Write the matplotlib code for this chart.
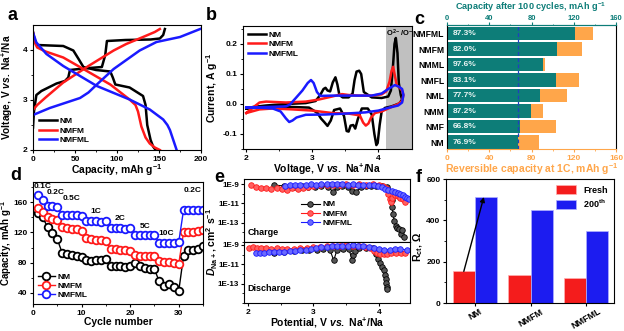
import numpy as np
import matplotlib
matplotlib.use('Agg')
import matplotlib.pyplot as plt

plt.rcParams['font.family'] = ['Liberation Sans', 'DejaVu Sans']
plt.rcParams['font.weight'] = 'bold'
plt.rcParams['axes.labelweight'] = 'bold'
plt.rcParams['mathtext.fontset'] = 'custom'
plt.rcParams['mathtext.rm'] = 'Liberation Sans:bold'
plt.rcParams['mathtext.it'] = 'Liberation Sans:italic:bold'
plt.rcParams['mathtext.bf'] = 'Liberation Sans:bold'
plt.rcParams['mathtext.default'] = 'rm'
plt.rcParams['xtick.direction'] = 'out'
plt.rcParams['ytick.direction'] = 'out'
plt.rcParams['xtick.major.size'] = 2.5
plt.rcParams['ytick.major.size'] = 2.5
plt.rcParams['xtick.minor.size'] = 1.5
plt.rcParams['ytick.minor.size'] = 1.5
plt.rcParams['xtick.major.pad'] = 1.5
plt.rcParams['ytick.major.pad'] = 1.5
plt.rcParams['axes.linewidth'] = 0.8
plt.rcParams['xtick.labelsize'] = 6
plt.rcParams['ytick.labelsize'] = 6
plt.rcParams['axes.labelsize'] = 7.5

# ---- (a) charge / discharge profiles ----
nm_chg_cap = [0, 1, 4, 10, 28, 38, 42, 44, 60, 82, 86, 88, 110, 140, 151, 155, 157]
nm_chg_v = [2.45, 2.75, 3.1, 3.18, 3.33, 3.38, 3.45, 3.6, 3.63, 3.66, 3.9, 4.18, 4.2, 4.21, 4.23, 4.3, 4.42]
nm_dis_cap = [0, 2, 5, 20, 36, 48, 55, 60, 75, 92, 95, 98, 115, 131, 134, 136, 140, 143, 146]
nm_dis_v = [4.36, 4.2, 4.1, 4.09, 4.08, 3.99, 3.8, 3.66, 3.6, 3.57, 3.45, 3.31, 3.25, 3.08, 2.9, 2.5, 2.2, 2.07, 2.0]
nmfm_chg_cap = [0, 5, 15, 36, 66, 96, 111, 131, 145, 151]
nmfm_chg_v = [2.8, 2.9, 3.05, 3.35, 3.68, 3.99, 4.12, 4.26, 4.36, 4.42]
nmfm_dis_cap = [0, 2, 5, 15, 36, 60, 92, 115, 122, 125, 129, 134, 139, 145, 151]
nmfm_dis_v = [4.35, 4.15, 4.05, 3.97, 3.85, 3.62, 3.31, 3.01, 2.9, 2.77, 2.47, 2.25, 2.13, 2.05, 2.0]
nmfml_chg_cap = [0, 20, 56, 66, 76, 96, 127, 147, 175, 199]
nmfml_chg_v = [2.7, 2.84, 3.04, 3.15, 3.31, 3.62, 3.99, 4.16, 4.26, 4.42]
nmfml_dis_cap = [0, 4, 16, 36, 76, 115, 139, 155, 160, 163, 167, 171]
nmfml_dis_v = [4.35, 4.15, 3.92, 3.68, 3.28, 3.01, 2.81, 2.61, 2.5, 2.4, 2.2, 2.0]

# ---- (b) cyclic voltammetry loops ----
nm_cv_v = [2.00, 2.10, 2.30, 2.60, 2.90, 3.05, 3.12, 3.17, 3.20, 3.23, 3.27, 3.31, 3.35, 3.38, 3.41,
           3.46, 3.55, 3.61, 3.64, 3.67, 3.71, 3.74, 3.78, 3.90, 4.05, 4.15, 4.19, 4.22, 4.245, 4.265,
           4.29, 4.31, 4.34, 4.36,
           4.32, 4.20, 4.10, 4.05, 4.02, 3.99, 3.97, 3.94, 3.90, 3.84, 3.75, 3.69, 3.65, 3.62, 3.58,
           3.55, 3.52, 3.48, 3.42, 3.33, 3.28, 3.23, 3.18, 3.13, 3.08, 2.95, 2.70, 2.40, 2.20, 2.00]
nm_cv_i = [-0.015, -0.010, -0.005, 0.000, 0.003, 0.010, 0.030, 0.050, 0.054, 0.045, 0.042, 0.072, 0.089, 0.065, 0.030,
           0.022, 0.022, 0.035, 0.080, 0.108, 0.111, 0.100, 0.040, 0.022, 0.020, 0.025, 0.045, 0.120, 0.200, 0.220,
           0.170, 0.070, 0.030, 0.015,
           0.002, -0.008, -0.013, -0.025, -0.070, -0.130, -0.137, -0.100, -0.035, -0.015, -0.015, -0.050, -0.082, -0.070, -0.072,
           -0.092, -0.090, -0.040, -0.015, -0.020, -0.055, -0.073, -0.060, -0.048, -0.030, -0.012, -0.010, -0.008, -0.012, -0.015]
nmfm_cv_v = [2.00, 2.10, 2.20, 2.30, 2.60, 2.90, 3.10, 3.30, 3.45, 3.55, 3.70, 3.90, 4.05, 4.12, 4.17, 4.20,
             4.225, 4.25, 4.28, 4.32, 4.36, 4.38,
             4.36, 4.30, 4.20, 4.05, 3.95, 3.89, 3.85, 3.81, 3.77, 3.72, 3.55, 3.30, 3.00, 2.70, 2.40, 2.20, 2.00]
nmfm_cv_i = [-0.030, -0.012, 0.005, 0.008, 0.005, 0.008, 0.015, 0.025, 0.033, 0.030, 0.028, 0.028, 0.032, 0.042, 0.075, 0.110,
             0.124, 0.095, 0.062, 0.055, 0.045, 0.030,
             0.010, 0.000, -0.010, -0.025, -0.030, -0.045, -0.065, -0.072, -0.062, -0.038, -0.032, -0.030, -0.022, -0.018, -0.015, -0.018, -0.030]
nmfml_cv_v = [2.00, 2.30, 2.60, 2.66, 2.75, 2.85, 2.93, 2.98, 3.02, 3.07, 3.12, 3.30, 3.60, 3.90, 4.05, 4.15,
              4.25, 4.31, 4.36, 4.38,
              4.36, 4.30, 4.15, 4.00, 3.80, 3.50, 3.20, 2.90, 2.76, 2.70, 2.65, 2.60, 2.52, 2.40, 2.20, 2.00]
nmfml_cv_i = [-0.012, -0.010, -0.008, -0.002, 0.020, 0.045, 0.070, 0.080, 0.070, 0.040, 0.027, 0.028, 0.028, 0.028, 0.035, 0.050,
              0.063, 0.058, 0.050, 0.030,
              0.005, -0.005, -0.013, -0.022, -0.028, -0.032, -0.035, -0.036, -0.045, -0.055, -0.060, -0.048, -0.025, -0.015, -0.012, -0.012]

# ---- (c) capacity retention ----
samples = ['NM', 'NMF', 'NMM', 'NML', 'NMFL', 'NMML', 'NMFM', 'NMFML']
cap_1c = [87, 103, 91, 113.5, 124.5, 93, 127.5, 138.5]
retention = [76.9, 66.8, 87.2, 77.7, 83.1, 97.6, 82.0, 87.3]

# ---- (d) rate capability ----
cycles = np.arange(1, 36)
rate_nm = [146, 140, 127, 119, 111, 93, 92, 90, 89, 88, 83, 82, 84, 83, 85,
           75, 75, 75, 74, 75, 80, 76, 73, 72, 71, 55, 49, 51, 48, 42,
           89, 97, 97, 98, 102]
rate_nmfm = [153, 147, 140, 138, 137, 127, 126, 125, 124, 122, 112, 111, 110, 110, 109,
             98, 98, 97, 97, 96, 90, 89, 89, 89, 89, 82, 81, 81, 80, 78,
             120, 121, 121, 122, 123]
rate_nmfml = [170, 163, 155, 155, 154, 143, 143, 143, 143, 142, 135, 135, 135, 134, 135,
              126, 126, 126, 125, 126, 116, 116, 116, 116, 116, 106, 106, 106, 106, 107,
              150, 150, 150, 150, 150]
rate_labels = ['0.1C', '0.2C', '0.5C', '1C', '2C', '5C', '10C', '0.2C']
rate_label_x = [2.0, 4.6, 8.0, 12.9, 17.9, 23.1, 27.4, 32.9]
rate_label_y = [181, 173, 165, 148, 139, 128, 118, 176]

# ---- (e) Na+ diffusion coefficient (log10 D) ----
nm_chg_pot = [2.40, 2.55, 2.70, 2.82, 2.92, 3.02, 3.12, 3.22, 3.30, 3.36, 3.44, 3.52, 3.58, 3.65, 3.72, 3.80,
              3.88, 3.96, 4.04, 4.12, 4.19, 4.20, 4.21, 4.23, 4.25, 4.27, 4.31, 4.33, 4.35, 4.38]
nm_chg_logd = [-9.1, -9.2, -9.3, -9.2, -9.3, -9.3, -9.2, -9.3, -9.8, -9.3, -9.2, -9.3, -9.7, -9.8, -9.3, -9.2,
               -9.2, -9.2, -9.2, -9.35, -10.7, -11.4, -12.1, -12.8, -13.3, -13.6, -13.7, -14.2, -13.8, -14.5]
nmfm_chg_pot = [2.05, 2.12, 2.20, 2.28, 2.36, 2.44, 2.52, 2.60, 2.68, 2.76, 2.84, 2.92, 3.00, 3.10, 3.20, 3.30,
                3.40, 3.50, 3.60, 3.70, 3.80, 3.90, 4.00, 4.06, 4.11, 4.14, 4.16, 4.18, 4.20, 4.24, 4.28, 4.32,
                4.36, 4.40]
nmfm_chg_logd = [-9.15, -9.3, -9.4, -9.45, -9.5, -9.4, -9.55, -9.6, -9.4, -9.55, -9.4, -9.3, -9.2, -9.1, -9.1, -9.05,
                 -9.05, -9.0, -9.05, -9.0, -9.05, -9.0, -9.1, -9.2, -9.4, -10.0, -10.5, -10.9, -10.4, -10.1, -10.2, -10.4,
                 -10.6, -10.9]
nmfml_chg_pot = [2.57, 2.65, 2.72, 2.80, 2.88, 2.96, 3.04, 3.12, 3.20, 3.28, 3.36, 3.44, 3.52, 3.60, 3.68, 3.76,
                 3.84, 3.92, 3.98, 4.04, 4.09, 4.14, 4.19, 4.24, 4.28, 4.32, 4.36, 4.40, 4.43, 4.46]
nmfml_chg_logd = [-9.2, -9.15, -9.1, -9.1, -9.05, -9.0, -9.05, -9.0, -9.0, -9.0, -9.0, -9.0, -9.05, -9.0, -9.05, -9.05,
                  -9.1, -9.15, -9.25, -9.35, -9.5, -9.6, -9.75, -9.85, -9.95, -10.05, -10.15, -10.3, -10.45, -10.6]
nm_dis_pot = [2.40, 2.55, 2.70, 2.82, 2.94, 3.05, 3.15, 3.25, 3.31, 3.36, 3.45, 3.54, 3.59, 3.61, 3.64, 3.70,
              3.80, 3.90, 3.96, 3.99, 4.02, 4.05, 4.07, 4.09, 4.10, 4.11, 4.12, 4.12]
nm_dis_logd = [-9.85, -9.7, -9.6, -9.55, -9.5, -9.5, -9.45, -9.5, -10.6, -9.5, -9.4, -9.4, -10.6, -10.1, -9.6, -9.3,
               -9.3, -9.35, -9.9, -10.45, -10.9, -11.3, -11.6, -12.1, -12.5, -12.95, -13.3, -13.55]
nmfm_dis_pot = [2.02, 2.08, 2.14, 2.20, 2.28, 2.36, 2.44, 2.52, 2.60, 2.70, 2.80, 2.90, 3.00, 3.10, 3.20, 3.30,
                3.40, 3.50, 3.60, 3.70, 3.78, 3.86, 3.92, 3.97, 4.02, 4.07, 4.12, 4.18, 4.26, 4.34, 4.40]
nmfm_dis_logd = [-9.3, -9.25, -9.3, -9.35, -9.3, -9.4, -9.35, -9.4, -9.45, -9.4, -9.35, -9.3, -9.25, -9.2, -9.15, -9.1,
                 -9.1, -9.05, -9.1, -9.1, -9.2, -9.35, -9.6, -9.8, -9.9, -9.95, -9.9, -9.85, -9.8, -9.8, -9.85]
nmfml_dis_pot = [2.12, 2.18, 2.25, 2.32, 2.40, 2.48, 2.56, 2.64, 2.72, 2.80, 2.88, 2.96, 3.04, 3.12, 3.20, 3.28,
                 3.36, 3.44, 3.52, 3.60, 3.68, 3.76, 3.84, 3.92, 4.00, 4.08, 4.16, 4.24, 4.32, 4.42]
nmfml_dis_logd = [-9.85, -9.85, -9.8, -9.75, -9.7, -9.75, -9.7, -9.6, -9.65, -9.55, -9.5, -9.4, -9.3, -9.25, -9.2, -9.15,
                  -9.1, -9.1, -9.1, -9.05, -9.1, -9.15, -9.2, -9.3, -9.4, -9.5, -9.5, -9.45, -9.4, -9.55]

# ---- (f) charge-transfer resistance ----
rct_samples = ['NM', 'NMFM', 'NMFML']
rct_fresh = [153, 134, 119]
rct_200 = [513, 448, 348]

W, H = 624, 331


def box(l, t, r, b):
    return [l / W, 1 - b / H, (r - l) / W, (b - t) / H]


def letter(x, y, s):
    fig.text(x / W, 1 - y / H, s, fontsize=13, fontweight='bold', va='center', ha='left')


fig = plt.figure(figsize=(6.24, 3.31), dpi=100)
blk, red, blu = 'black', '#ff1a1a', '#1a1aff'

# (a)
ax = fig.add_axes(box(33, 25, 201, 150))
ax.plot(nm_chg_cap, nm_chg_v, color=blk, lw=1.8, label='NM')
ax.plot(nm_dis_cap, nm_dis_v, color=blk, lw=1.8)
ax.plot(nmfm_chg_cap, nmfm_chg_v, color=red, lw=1.8, label='NMFM')
ax.plot(nmfm_dis_cap, nmfm_dis_v, color=red, lw=1.8)
ax.plot(nmfml_chg_cap, nmfml_chg_v, color=blu, lw=1.8, label='NMFML')
ax.plot(nmfml_dis_cap, nmfml_dis_v, color=blu, lw=1.8)
ax.set_xlim(0, 200)
ax.set_ylim(2, 4.5)
ax.set_xticks([0, 50, 100, 150, 200])
ax.set_yticks([2, 3, 4])
ax.set_xticks([25, 75, 125, 175], minor=True)
ax.set_yticks([2.5, 3.5], minor=True)
ax.set_xlabel('Capacity, mAh g$^{-1}$', labelpad=0)
ax.set_ylabel('Voltage, V $\\it{vs.}$ Na$^{+}$/Na', fontsize=7.3)
ax.yaxis.set_label_coords(-0.108, 0.5)
ax.legend(loc='lower left', frameon=False, fontsize=6, handlelength=2.2, labelspacing=0.2,
          borderaxespad=0.3, handletextpad=0.3)
letter(8, 16, 'a')

# (b)
ax = fig.add_axes(box(243, 26, 412, 149))
ax.axvspan(4.12, 4.6, color='#c0c0c0', lw=0)
ax.plot(nm_cv_v, nm_cv_i, color=blk, lw=1.8, label='NM')
ax.plot(nmfm_cv_v, nmfm_cv_i, color=red, lw=1.8, label='NMFM')
ax.plot(nmfml_cv_v, nmfml_cv_i, color=blu, lw=1.8, label='NMFML')
ax.text(4.33, 0.236, 'O$^{2-}$/O$^{-}$', fontsize=5.5, ha='center', va='center')
ax.set_xlim(1.95, 4.51)
ax.set_ylim(-0.15, 0.26)
ax.set_xticks([2, 3, 4])
ax.set_xticks([2.5, 3.5], minor=True)
ax.set_yticks([-0.1, 0.0, 0.1, 0.2])
ax.set_yticks([-0.15, -0.05, 0.05, 0.15, 0.25], minor=True)
ax.set_yticklabels(['-0.1', '0.0', '0.1', '0.2'])
ax.set_xlabel('Voltage, V $\\it{vs.}$ Na$^{+}$/Na', labelpad=0)
ax.set_ylabel('Current, A g$^{-1}$')
ax.yaxis.set_label_coords(-0.135, 0.5)
ax.legend(loc='upper left', frameon=False, fontsize=6, handlelength=2.2, labelspacing=0.2,
          borderaxespad=0.2, handletextpad=0.3)
letter(206, 16, 'b')

# (c)
teal, orange = '#0d7d78', '#ffa64a'
ax = fig.add_axes(box(447, 25, 616, 149))
ypos = np.arange(len(samples))
cap_100 = [c * r / 100 for c, r in zip(cap_1c, retention)]
ax.barh(ypos, cap_1c, height=0.85, color=orange, zorder=1)
ax.barh(ypos, cap_100, height=0.85, color=teal, zorder=2)
for y, r in zip(ypos, retention):
    ax.text(5, y, f'{r:.1f}%', color='#e8f4f2', fontsize=6, va='center', ha='left', zorder=3)
ax.axvline(cap_100[0], color='#1f3fbf', lw=0.9, ls=(0, (3, 2)), zorder=3)
ax.set_xlim(0, 160)
ax.set_ylim(-0.45, 7.55)
ax.set_yticks(ypos)
ax.set_yticklabels(samples, fontsize=6.2)
ax.tick_params(axis='y', length=0, pad=2)
ax.set_xticks([0, 40, 80, 120, 160])
ax.set_xticks([20, 60, 100, 140], minor=True)
ax.tick_params(axis='x', which='both', colors=orange, labelcolor=orange)
ax.spines['bottom'].set_color(orange)
ax.spines['top'].set_color(teal)
ax.set_xlabel('Reversible capacity at 1C, mAh g$^{-1}$', color=orange, labelpad=0)
top = ax.secondary_xaxis('top')
top.set_xticks([0, 40, 80, 120, 160])
top.set_xticks([20, 60, 100, 140], minor=True)
top.tick_params(axis='x', which='major', colors=teal, labelcolor=teal, pad=0.3, labelsize=5.5, length=2)
top.tick_params(axis='x', which='minor', colors=teal, length=1)
top.spines['top'].set_color(teal)
fig.text(531 / W, 1 - 0.5 / H, 'Capacity after 100 cycles, mAh g$^{-1}$', color=teal,
         fontsize=6.6, ha='center', va='top')
letter(414, 19, 'c')

# (d)
ax = fig.add_axes(box(33, 182, 203, 304))
mk = dict(marker='o', ms=5.5, mfc='white', mew=1.3, lw=1.0)
ax.plot(cycles, rate_nm, color=blk, label='NM', **mk)
ax.plot(cycles, rate_nmfm, color=red, label='NMFM', **mk)
ax.plot(cycles, rate_nmfml, color=blu, label='NMFML', **mk)
for s, x, y in zip(rate_labels, rate_label_x, rate_label_y):
    ax.text(x, y, s, fontsize=6, ha='center', va='center')
ax.set_xlim(0, 35)
ax.set_ylim(25, 187)
ax.set_xticks([0, 10, 20, 30])
ax.set_xticks([5, 15, 25, 35], minor=True)
ax.set_yticks([40, 80, 120, 160])
ax.set_yticks([60, 100, 140, 180], minor=True)
ax.set_xlabel('Cycle number', labelpad=0)
ax.set_ylabel('Capacity, mAh g$^{-1}$', fontsize=7)
ax.yaxis.set_label_coords(-0.11, 0.5)
ax.legend(loc='lower left', frameon=False, fontsize=6, handlelength=2.0, labelspacing=0.15,
          borderaxespad=0.2, handletextpad=0.3)
letter(10, 176, 'd')

# (e)
ex = (1.944, 4.47)
ax1 = fig.add_axes(box(244, 179, 410, 242))
ax2 = fig.add_axes(box(244, 242, 410, 303))
em = dict(marker='o', ms=4, lw=0.8, mew=0.6)
ax1.plot(nm_chg_pot, 10.0 ** np.array(nm_chg_logd), color=blk, mfc='#555555', mec=blk, **em)
ax1.plot(nmfm_chg_pot, 10.0 ** np.array(nmfm_chg_logd), color=red, mfc='#ff6060', mec=red, **em)
ax1.plot(nmfml_chg_pot, 10.0 ** np.array(nmfml_chg_logd), color=blu, mfc='#6a6aff', mec=blu, **em)
ax2.plot(nm_dis_pot, 10.0 ** np.array(nm_dis_logd), color=blk, mfc='#555555', mec=blk, **em)
ax2.plot(nmfm_dis_pot, 10.0 ** np.array(nmfm_dis_logd), color=red, mfc='#ff6060', mec=red, **em)
ax2.plot(nmfml_dis_pot, 10.0 ** np.array(nmfml_dis_logd), color=blu, mfc='#6a6aff', mec=blu, **em)
for a, lo, hi in ((ax1, -14.9, -8.48), (ax2, -14.08, -8.71)):
    a.set_yscale('log')
    a.set_xlim(*ex)
    a.set_ylim(10.0 ** lo, 10.0 ** hi)
    a.set_yticks([1e-13, 1e-11, 1e-9])
    a.set_yticklabels(['1E-13', '1E-11', '1E-9'], fontsize=5.8)
    a.set_yticks([10.0 ** k for k in range(-15, -8) if k not in (-13, -11, -9)], minor=True)
    a.yaxis.set_minor_formatter(plt.NullFormatter())
    a.tick_params(axis='y', which='both', pad=1)
    a.set_xticks([2, 3, 4])
    a.set_xticks([2.5, 3.5], minor=True)
ax1.tick_params(axis='x', which='both', labelbottom=False, length=0)
ax1.text(2.0, 10.0 ** -14.3, 'Charge', fontsize=6.5)
ax2.text(2.0, 10.0 ** -13.75, 'Discharge', fontsize=6.5)
ax1.legend(['NM', 'NMFM', 'NMFML'], loc='center left', bbox_to_anchor=(0.3, 0.45), frameon=False,
           fontsize=6, handlelength=2.2, labelspacing=0.15, handletextpad=0.3)
ax2.set_xlabel('Potential, V $\\it{vs.}$ Na$^{+}$/Na', labelpad=0)
fig.text(212 / W, 1 - 242 / H, '$\\it{D}$$_{Na+}$, cm$^{2}$ s$^{-1}$', rotation=90,
         fontsize=7.5, ha='center', va='center')
letter(214, 178, 'e')

# (f)
ax = fig.add_axes(box(446, 179, 614, 303))
xf = np.arange(len(rct_samples))
ax.bar(xf - 0.2, rct_fresh, width=0.4, color='#f41c1c', edgecolor='#ffb0b0', lw=0.5, label='Fresh')
ax.bar(xf + 0.2, rct_200, width=0.4, color='#1c1cf0', edgecolor='#b0b0ff', lw=0.5, label='200$^{th}$')
ax.annotate('', xy=(0.16, rct_200[0]), xytext=(-0.2, rct_fresh[0]),
            arrowprops=dict(arrowstyle='-|>', color='black', lw=1.0, mutation_scale=7, shrinkA=0, shrinkB=0))
ax.set_xlim(-0.52, 2.5)
ax.set_ylim(0, 600)
ax.set_yticks([0, 200, 400, 600])
ax.set_yticks([100, 300, 500], minor=True)
ax.set_xticks(xf)
ax.set_xticklabels(rct_samples, rotation=30, fontsize=6.5, ha='center')
ax.tick_params(axis='x', pad=0.5)
ax.set_ylabel('R$_{ct}$, Ω')
ax.yaxis.set_label_coords(-0.125, 0.45)
ax.legend(loc='upper right', frameon=False, fontsize=6.5, handlelength=2.2, handleheight=1.1,
          labelspacing=0.3, borderaxespad=0.3)
letter(416, 178, 'f')

fig.savefig('out.png', dpi=100)
